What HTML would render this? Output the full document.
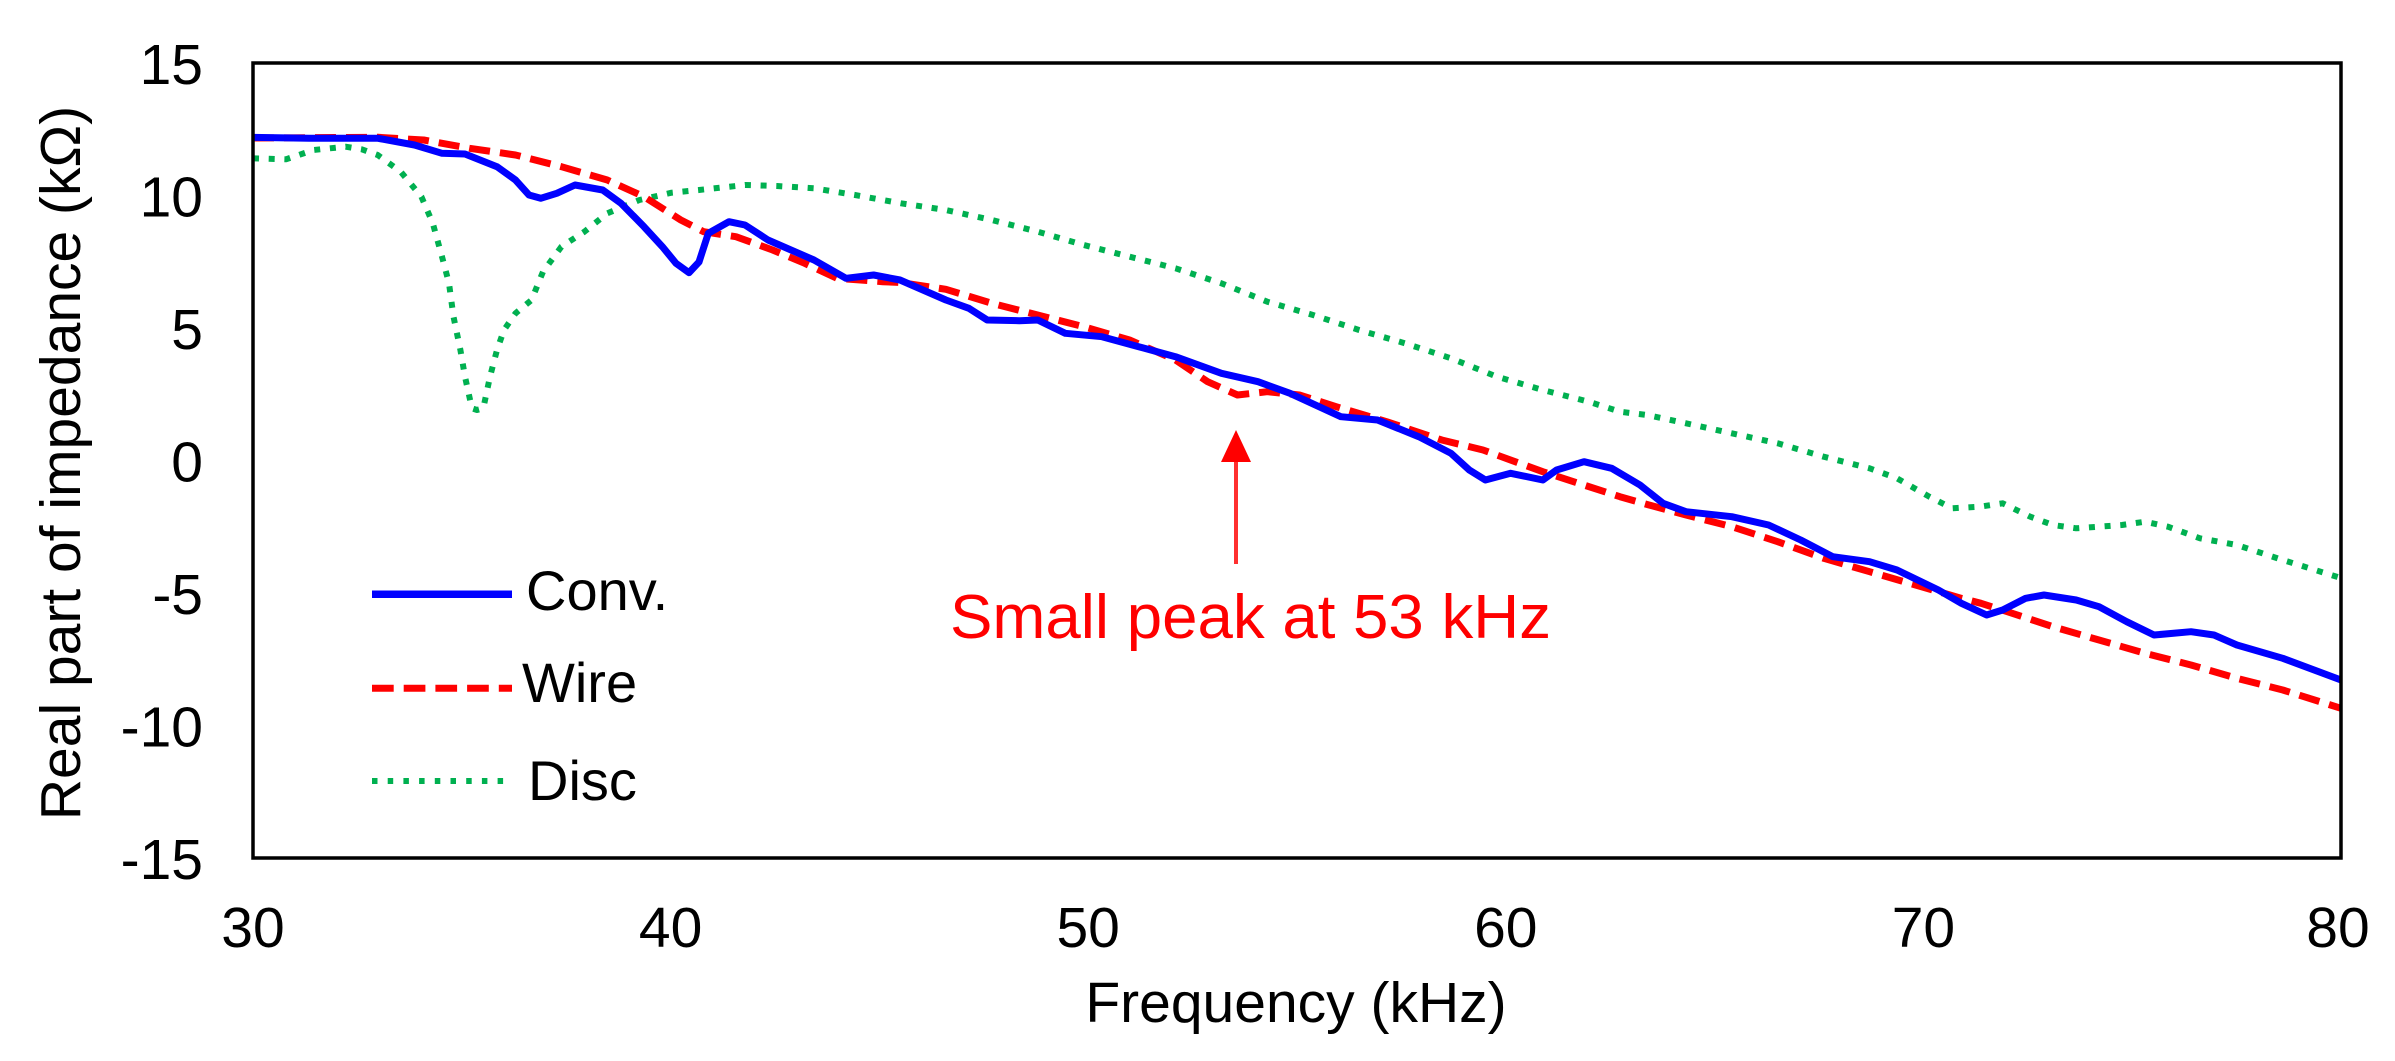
<!DOCTYPE html>
<html>
<head>
<meta charset="utf-8">
<style>
  html, body { margin: 0; padding: 0; background: #ffffff; }
  svg { display: block; }
  text { font-family: "Liberation Sans", Arial, sans-serif; fill: #000; }
</style>
</head>
<body>
<svg width="2395" height="1061" viewBox="0 0 2395 1061" xmlns="http://www.w3.org/2000/svg">
  <rect x="0" y="0" width="2395" height="1061" fill="#ffffff"/>

  <!-- Green (Disc) dotted -->
  <polyline fill="none" stroke="#00b050" stroke-width="6" stroke-dasharray="6 9.7" stroke-linejoin="round"
    points="253,158.3 286,159.3 313.5,150 345.6,146.7 361.7,149.3 377.7,155 400.7,171.7 421.4,196.7 432.8,223.3 442,256.7 449,283.3 453.5,316.7 460.4,350 465,376.7 471.9,408.3 477,410 483.3,408.3 490,376.7 497,350 504,330 515.5,313.3 531.5,300 543,271.7 561.4,246.7 584.4,231.7 607.3,213.3 639.4,200 671.6,192.7 699,190 745,185 777,186 814,188.3 855,195 901,203.3 945.9,210 991.8,220 1037.7,231.7 1083.7,245 1129.6,256.7 1175.5,268.3 1221.4,283.3 1267.3,301.7 1313,315 1359,330 1405,343.3 1451,358.3 1496.9,376.7 1542.8,390 1588.7,401.7 1620,411.7 1646.9,415 1686,423.3 1731.8,433.3 1777.7,443.3 1823.7,456.7 1869.6,468.3 1897,478.3 1929.3,496.7 1952.2,508.3 1979.8,506.7 2002.7,503.3 2030.3,516.7 2053,525 2076.2,528.3 2122,525 2145,521.7 2168,526.7 2200,538.3 2236.9,545 2282.8,560 2341,578"/>

  <!-- Red (Wire) dashed -->
  <polyline fill="none" stroke="#ff0000" stroke-width="7" stroke-dasharray="21 10" stroke-linejoin="round"
    points="253,138 378,137.3 423.7,140 469.6,148.3 515.5,155 561.4,166.7 607.3,180 644,196.7 680.8,220 703.7,231.7 735.9,236.7 772.6,250 804.7,263.3 837,278.3 882.8,281.7 900,282.5 945.9,289.3 991.8,303.3 1037.7,315 1083.7,326.7 1129.6,340 1175.5,360 1207.6,381.7 1237.5,395 1267.3,391.7 1299.4,395 1336.2,406.7 1386.7,421.7 1441.8,440 1483,450 1542.8,471.7 1620,496.7 1649,505 1686,515 1731.8,526.7 1777.7,541.7 1823.7,558.3 1869.6,571.7 1915.5,585 1961.4,598.3 1981,603.3 2007.3,611.7 2053,626.7 2099,640 2145,653.3 2191,665 2236.9,678.3 2282.8,690 2341,708.3"/>

  <!-- Blue (Conv.) solid -->
  <polyline fill="none" stroke="#0000ff" stroke-width="7" stroke-linejoin="round" stroke-linecap="butt"
    points="253,137.3 309,138.3 378,138.3 414.5,145 442,153.3 465,154 497,166.7 515.5,180 529,195 540.7,198.3 556.8,193.3 575,185 602.7,190 621,203.3 644,226.7 662.4,246.7 676,263.3 689,272.7 699,262 708.3,233.3 729,221.7 745,225 768,240 814,260 846,278.3 873.6,275 900,280 945.9,300 968.9,308.3 987.2,320 1019.4,320.7 1037.7,320 1065.3,333.3 1102,336.7 1138.7,346.7 1175.5,356.7 1221.4,373.3 1258,381.7 1290,393.3 1340.8,416.7 1377.5,420 1418.8,436.7 1451,453.3 1469.3,470 1485.4,480 1510.6,473.3 1542.8,480 1556.6,470 1584,461.7 1611.7,468.3 1640,485 1663,503.3 1686,511.7 1731.8,516.7 1768.6,525 1800.7,540 1832.8,556.7 1869.6,561.7 1897,570 1938.4,590 1961.4,603.3 1986.6,615 2002.7,610 2025.7,598.3 2044,595 2076.2,600 2099,606.7 2126.7,621.7 2154,635 2191,631.7 2214,635 2236.9,645 2282.8,658.3 2341,680"/>

  <!-- Plot frame -->
  <rect x="253" y="63" width="2088" height="795" fill="none" stroke="#000" stroke-width="3.5"/>

  <!-- Y tick labels -->
  <g font-size="57" text-anchor="end">
    <text x="203" y="84">15</text>
    <text x="203" y="216.5">10</text>
    <text x="203" y="349">5</text>
    <text x="203" y="481.5">0</text>
    <text x="203" y="614">-5</text>
    <text x="203" y="746.5">-10</text>
    <text x="203" y="879">-15</text>
  </g>

  <!-- X tick labels -->
  <g font-size="57" text-anchor="middle">
    <text x="253" y="947">30</text>
    <text x="670.6" y="947">40</text>
    <text x="1088.2" y="947">50</text>
    <text x="1505.8" y="947">60</text>
    <text x="1923.4" y="947">70</text>
    <text x="2338" y="947">80</text>
  </g>

  <!-- Axis titles -->
  <text x="1296" y="1022" font-size="57" text-anchor="middle">Frequency (kHz)</text>
  <text transform="translate(80,463) rotate(-90)" x="0" y="0" font-size="57" text-anchor="middle">Real part of impedance (kΩ)</text>

  <!-- Legend -->
  <line x1="372" y1="594.3" x2="512" y2="594.3" stroke="#0000ff" stroke-width="7.5"/>
  <line x1="372" y1="688.3" x2="512" y2="688.3" stroke="#ff0000" stroke-width="7" stroke-dasharray="21.7 10"/>
  <line x1="372" y1="781" x2="506" y2="781" stroke="#00b050" stroke-width="6" stroke-dasharray="5.5 10.2"/>
  <g font-size="56">
    <text x="526" y="610">Conv.</text>
    <text x="522" y="702">Wire</text>
    <text x="528" y="800">Disc</text>
  </g>

  <!-- Annotation arrow -->
  <line x1="1236" y1="564" x2="1236" y2="458" stroke="#ff3030" stroke-width="4"/>
  <polygon points="1236,430 1221,462 1251,462" fill="#ff0000"/>
  <text x="950" y="638" font-size="62" textLength="601" lengthAdjust="spacingAndGlyphs" style="fill:#ff0000">Small peak at 53 kHz</text>
</svg>
</body>
</html>
